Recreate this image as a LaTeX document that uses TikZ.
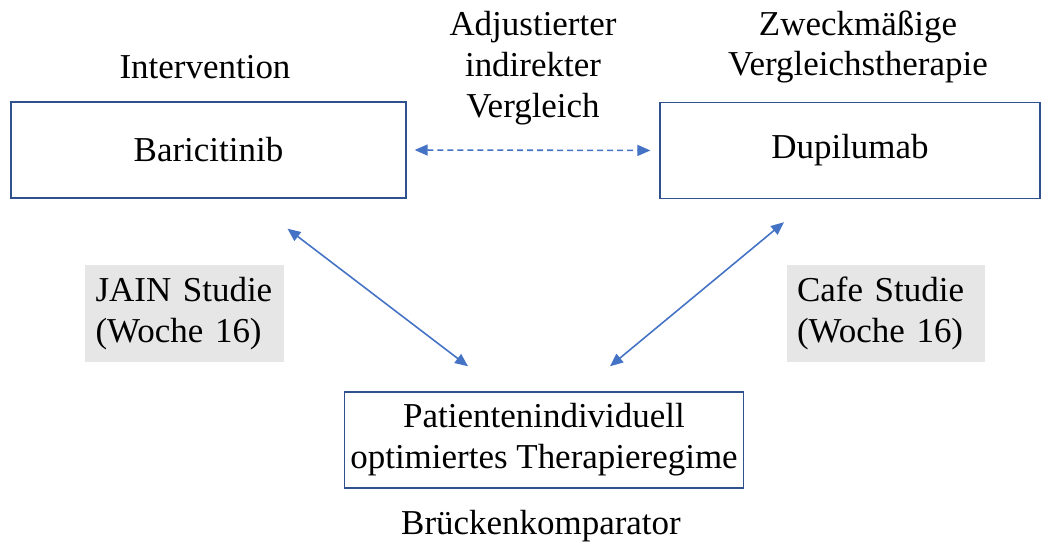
\documentclass[tikz,border=0pt]{standalone}
\usepackage{fontspec}
\setmainfont{Liberation Serif}
\usepackage{tikz}
\usetikzlibrary{positioning,arrows.meta,calc}

\definecolor{boxblue}{HTML}{2F528F}
\definecolor{arrowblue}{HTML}{4472C4}
\definecolor{studygray}{HTML}{E7E6E6}

\begin{document}
\begin{tikzpicture}[
    x=0.02cm, y=-0.02cm,
    every node/.style={font=\fontsize{19.9pt}{23.2pt}\selectfont},
    drug/.style={draw=boxblue, line width=0.8pt, minimum height=1.92cm, align=center},
    study/.style={fill=studygray, minimum height=1.94cm, text width=3.56cm, inner xsep=0.21cm, align=left},
    caption/.style={align=center},
    link/.style={{Triangle[length=2.6mm,width=2.2mm]}-{Triangle[length=2.6mm,width=2.2mm]}, draw=arrowblue, line width=0.9pt}
]
\useasboundingbox (0,0) rectangle (1042,547);

\node[drug, minimum width=7.9cm] (bari) at (208.5,150) {Baricitinib};
\node[drug, minimum width=7.6cm] (dupi) at (850,150.5) {Dupilumab};
\node[drug, minimum width=7.96cm] (bridge) at (544,440) {Patientenindividuell\\optimiertes Therapieregime};

\node[caption] (intv) at (205,67) {Intervention};
\node[caption] (aic) at (533,68) {Adjustierter\\indirekter\\Vergleich};
\node[caption] (zvt) at (858,47) {Zweckmäßige\\Vergleichstherapie};
\node[caption] (bk) at (541,526) {Brückenkomparator};

\node[study] (jain) at (184.5,313.5) {JAIN Studie\\(Woche 16)};
\node[study] (cafe) at (886,313.5) {Cafe Studie\\(Woche 16)};

% ends of the diagonal links
\coordinate (baritip) at ($(bari.south)+(79,30)$);
\coordinate (dupitip) at ($(dupi.south)+(-66,23)$);
\coordinate (bridgel) at ($(bridge.north)+(-76,-25)$);
\coordinate (bridger) at ($(bridge.north)+(66,-25)$);

\draw[link, dash pattern=on 0.12cm off 0.08cm, shorten <=0.16cm, shorten >=0.18cm] (bari.east) -- (dupi.west);
\draw[link] (baritip) -- (bridgel);
\draw[link] (dupitip) -- (bridger);
\end{tikzpicture}
\end{document}
